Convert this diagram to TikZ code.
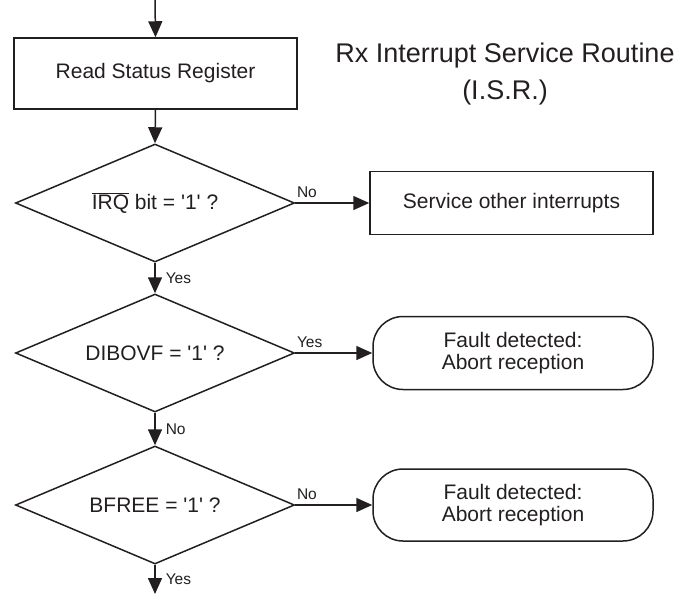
\documentclass[tikz,border=0pt]{standalone}
\usepackage{fontspec}
\setmainfont{Liberation Sans}
\usetikzlibrary{shapes.geometric,arrows.meta,positioning}

\definecolor{ink}{RGB}{35,31,32}

\tikzset{
    flow/.style={draw=ink, line width=1.5pt, -{Triangle[length=16pt,width=14pt]}},
    procbox/.style={draw=ink, line width=1.5pt, rectangle, inner sep=0pt,
        font=\fontsize{21}{21.5}\selectfont, text=ink, align=center},
    testbox/.style={draw=ink, line width=1.5pt, diamond, aspect=2.4, inner sep=0pt,
        minimum width=279pt, minimum height=118pt,
        font=\fontsize{21}{21.5}\selectfont, text=ink},
    endbox/.style={procbox, rounded corners=30pt},
    lbl/.style={font=\fontsize{15.5}{15.5}\selectfont, text=ink, inner sep=1pt},
}
\newcommand{\sq}{\textquotesingle}

\begin{document}
\begin{tikzpicture}[x=1pt, y=-1pt]
    \useasboundingbox (0,0) rectangle (685,595);
    \coordinate (entry) at (155, 0);
    \coordinate (exit) at (155, 594);

    \node[procbox, minimum width=283pt, minimum height=71pt] (readstat) at (155.5, 73.5) {Read Status Register};
    \node[testbox] (irqchk) at (155, 203) {$\overline{\hbox{IRQ}}$ bit = \sq1\sq{} ?};
    \node[testbox] (ovfchk) at (155, 353) {DIBOVF = \sq1\sq{} ?};
    \node[testbox] (freechk) at (155, 505) {BFREE = \sq1\sq{} ?};

    \node[procbox, minimum width=283pt, minimum height=63pt] (svcother) at (511.5, 203) {Service other interrupts};
    \node[endbox, minimum width=280pt, minimum height=73pt] (abort1) at (513, 353) {Fault detected:\\Abort reception};
    \node[endbox, minimum width=280pt, minimum height=72pt] (abort2) at (513, 505) {Fault detected:\\Abort reception};

    \node[font=\fontsize{27}{37}\selectfont, text=ink, align=center, inner sep=0pt] (title) at (505, 74.5)
        {Rx Interrupt Service Routine\\(I.S.R.)};

    % main path
    \draw[flow] (entry) -- (readstat.north);
    \draw[flow] (readstat.south) -- (irqchk.north);
    \draw[flow] (irqchk.south) -- node[lbl, anchor=west, xshift=9pt]{Yes} (ovfchk.north);
    \draw[flow] (ovfchk.south) -- node[lbl, anchor=west, xshift=9pt]{No} (freechk.north);
    \draw[flow] (freechk.south) -- node[lbl, anchor=west, xshift=9pt]{Yes} (exit);

    % side branches
    \draw[flow] (irqchk.east) -- node[lbl, pos=0, anchor=south west, yshift=4pt]{No} (svcother.west);
    \draw[flow] (ovfchk.east) -- node[lbl, pos=0, anchor=south west, yshift=4pt]{Yes} (abort1.west);
    \draw[flow] (freechk.east) -- node[lbl, pos=0, anchor=south west, yshift=4pt]{No} (abort2.west);
\end{tikzpicture}
\end{document}
